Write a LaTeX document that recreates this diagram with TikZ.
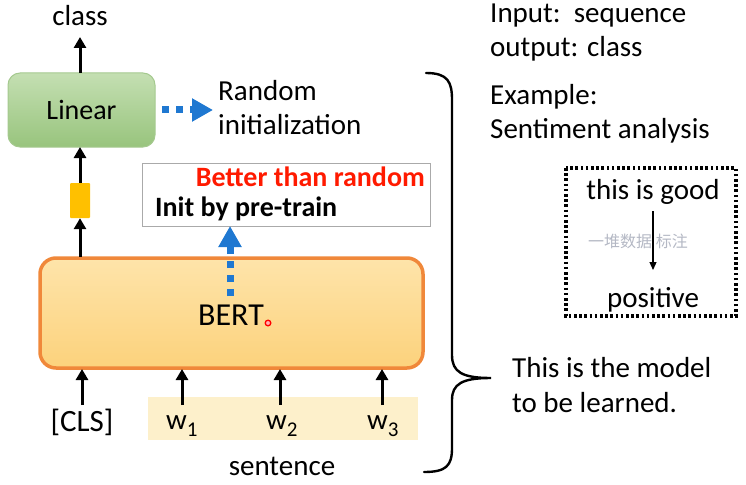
\documentclass[tikz,border=0pt]{standalone}
\usepackage{fontspec}
\setmainfont{Carlito}
\newfontfamily\cjk{Noto Sans CJK SC}
\usetikzlibrary{arrows.meta,calc}
\definecolor{bluearr}{HTML}{1F78D1}
\definecolor{orangeedge}{HTML}{F0883A}
\definecolor{greenedge}{HTML}{A5C98F}
\definecolor{greentop}{RGB}{196,223,178}
\definecolor{greenbot}{RGB}{152,196,125}
\definecolor{vecyellow}{RGB}{255,192,0}
\definecolor{berttop}{RGB}{254,228,170}
\definecolor{bertbot}{RGB}{252,210,124}
\definecolor{initgray}{RGB}{170,170,170}
\definecolor{sentfill}{RGB}{253,240,203}
\definecolor{textred}{HTML}{FF1A00}
\definecolor{wmark}{RGB}{180,184,196}
\tikzset{
  txt/.style={font=\fontsize{29}{34}\selectfont, inner sep=0pt, anchor=base},
  ltxt/.style={txt, anchor=base west},
  btxt/.style={inner sep=0pt, font=\fontsize{28}{32}\bfseries\selectfont},
  blk/.style={line width=3pt, -{Triangle[length=11pt,width=12pt]}},
  bluedash/.style={bluearr, line width=7pt, dash pattern=on 7pt off 7pt, -{Triangle[length=21pt,width=22pt]}},
}
\newcommand{\wsub}[1]{w\raisebox{-7pt}{\fontsize{21}{21}\selectfont #1}}
\begin{document}
\begin{tikzpicture}[x=1pt,y=-1pt]
\useasboundingbox (0,0) rectangle (746,484);

% Linear box
\shade[rounded corners=12pt, top color=greentop, bottom color=greenbot, draw=greenedge, line width=1pt] (8,73) rectangle (155,147);
\node[inner sep=0pt, minimum width=147pt, minimum height=74pt] (lin) at (81.5,110) {};
\node[txt, font=\fontsize{28}{32}\selectfont] at (81.5,120) {Linear};

\node[txt] (class) at (80,26) {class};
\coordinate (lintop) at (80,73);
\coordinate (linbot) at (80,147);
\coordinate (classbot) at (80,37);
\draw[blk] (lintop) -- (classbot);

% yellow vector
\node[fill=vecyellow, minimum width=20pt, minimum height=35pt, inner sep=0pt, rounded corners=1pt] (vec) at (80,200.5) {};
\draw[blk] (vec.north) -- (linbot);

% BERT
\shade[rounded corners=16pt, top color=berttop, bottom color=bertbot] (40,258) rectangle (423,368);
\draw[orangeedge, line width=3.5pt, rounded corners=16pt] (40,258) rectangle (423,368);
\node[inner sep=0pt, minimum width=383pt, minimum height=110pt] (bert) at (231.5,313) {};
\node[txt, font=\fontsize{32}{36}\selectfont] at (231,325) {BERT};
\draw[red, line width=1.3pt, fill=red!30] (268,323) circle (2.8pt);
\coordinate (berttopl) at (80,257);
\draw[blk] (berttopl) -- (vec.south);

% init box
\node[draw=initgray, line width=1pt, minimum width=288pt, minimum height=63pt, inner sep=0pt] (init) at (286,194.5) {};
\node[btxt, anchor=base east, text=textred] at (425,186) {Better than random};
\node[btxt, anchor=base west] at (155,216) {Init by pre-train};
\coordinate (bluestart) at (230,296);
\coordinate (bluetip) at (230,226);
\draw[bluedash] (bluestart) -- (bluetip);

% Random initialization
\coordinate (rstart) at (162,110);
\coordinate (rtip) at (213,110);
\draw[bluedash] (rstart) -- (rtip);
\node[ltxt] (rand1) at (218,101) {Random};
\node[ltxt] (rand2) at (218,135) {initialization};

% inputs
\fill[sentfill] (148,397) rectangle (418,440);
\node[txt, font=\fontsize{31}{34}\selectfont] (cls) at (82,431) {[CLS]};
\node[ltxt] (w1) at (166,429) {\wsub{1}};
\node[ltxt] (w2) at (266,429) {\wsub{2}};
\node[ltxt] (w3) at (367,429) {\wsub{3}};
\draw[blk] (82,405) -- (82,369);
\draw[blk] (182,405) -- (182,369);
\draw[blk] (280,405) -- (280,369);
\draw[blk] (382,405) -- (382,369);
\node[txt] (sent) at (282,475) {sentence};

% brace
\draw[line width=2.4pt, line cap=round] (426,73) .. controls (448,73) and (452,82) .. (452,100)
  -- (452,355) .. controls (452,372) and (462,378) .. (491,378)
  .. controls (462,378) and (452,384) .. (452,400)
  -- (452,448) .. controls (452,466) and (446,472) .. (424,472);
\coordinate (bracetip) at (491,378);

% right text
\node[ltxt] at (490,23) {Input:\ \ sequence};
\node[ltxt] at (490,57) {output: class};
\node[ltxt] at (490,105) {Example:};
\node[ltxt] at (490,139) {Sentiment analysis};

% example box
\draw[line width=3.4pt, dash pattern=on 2.6pt off 2.6pt] (566,168) rectangle (736,316);
\node[txt] (good) at (653,199) {this is good};
\node[txt] (pos) at (653,307) {positive};
\draw[line width=1.2pt, -{Triangle[length=8pt,width=7pt]}] (653,211) -- (653,270);
\node[font=\cjk\fontsize{16}{16}\selectfont, text=wmark, inner sep=0pt] at (638,241) {一堆数据 标注};

\node[ltxt] at (512,377) {This is the model};
\node[ltxt] at (512,412) {to be learned.};
\end{tikzpicture}
\end{document}
